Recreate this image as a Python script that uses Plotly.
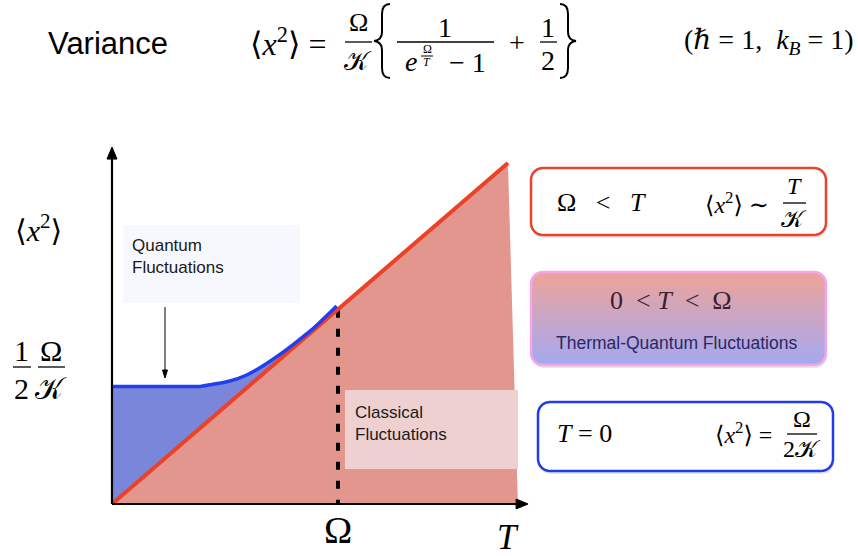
import numpy as np
import plotly.graph_objects as go

W, H = 858, 556

# Temperature T in units of Omega, variance <x^2> in units of Omega/K
T_classical = [0.0, 1.752]
x2_classical = [0.0, 1.755]
T_classical_region = [0.0, 1.752, 1.796]
x2_classical_region = [0.0, 1.755, 0.0]
T_quantum = [0.0, 0.301, 0.389, 0.447, 0.522, 0.596, 0.669, 0.743, 0.817, 0.891, 0.994]
x2_quantum = [0.605, 0.605, 0.605, 0.616, 0.633, 0.664, 0.712, 0.770, 0.835, 0.904, 1.019]
T_omega = [1.0, 1.0]
x2_omega = [1.0, 0.0]
T_axis_end = 1.841
x2_axis_end = 1.837

# pixel <-> axis / paper helpers for the surrounding decoration
X0, Y0, SX, SY = 112, 504, 226, 194.3
def X(px): return (px - X0) / SX
def Y(py): return (Y0 - py) / SY
def XP(t): return X0 + t * SX
def YP(v): return Y0 - v * SY
def PX(px): return px / W
def PY(py): return 1 - py / H

SERIF = "Liberation Serif, DejaVu Serif, serif"
SANS = "Liberation Sans, Arial, sans-serif"
KCAL = "<span style='font-family:DejaVu Sans'>𝒦</span>"
SP = "&nbsp;"

fig = go.Figure()

# classical region under T/K
fig.add_trace(go.Scatter(x=T_classical_region, y=x2_classical_region, mode="lines",
                         fill="toself", fillcolor="#e3968d", line=dict(width=0),
                         hoverinfo="skip", showlegend=False))
# quantum excess between full variance and classical line
fig.add_trace(go.Scatter(x=[T_quantum[0], T_quantum[-1]], y=[T_quantum[0], T_quantum[-1]],
                         mode="lines", line=dict(width=0), hoverinfo="skip", showlegend=False))
fig.add_trace(go.Scatter(x=T_quantum, y=x2_quantum, mode="lines", fill="tonexty",
                         fillcolor="#7a86d9", line=dict(width=0, shape="spline", smoothing=0.8),
                         hoverinfo="skip", showlegend=False))
# dashed marker at T = Omega
fig.add_trace(go.Scatter(x=T_omega, y=x2_omega, mode="lines",
                         line=dict(color="black", width=4, dash="8px,11px"),
                         hoverinfo="skip", showlegend=False))
fig.add_trace(go.Scatter(x=T_classical, y=x2_classical, mode="lines",
                         line=dict(color="#eb4127", width=4),
                         hoverinfo="skip", showlegend=False))
fig.add_trace(go.Scatter(x=T_quantum, y=x2_quantum, mode="lines",
                         line=dict(color="#1f3ff0", width=3.5, shape="spline", smoothing=0.8),
                         hoverinfo="skip", showlegend=False))


def rounded_pts(x0, y0, x1, y1, r, n=10):
    pts = []
    corners = [(x1 - r, y0 + r, -90, 0), (x1 - r, y1 - r, 0, 90),
               (x0 + r, y1 - r, 90, 180), (x0 + r, y0 + r, 180, 270)]
    for cx, cy, a0, a1 in corners:
        for a in np.linspace(np.radians(a0), np.radians(a1), n):
            pts.append((cx + r * np.cos(a), cy + r * np.sin(a)))
    pts.append(pts[0])
    return pts


def poly_path(pts, close=True):
    s = "M " + " L ".join(f"{PX(a):.5f},{PY(b):.5f}" for a, b in pts)
    return s + (" Z" if close else "")


# gradient panel (thermal-quantum regime)
g = rounded_pts(531, 272, 826, 365, 12)
fig.add_trace(go.Scatter(x=[X(a) for a, b in g], y=[Y(b) for a, b in g], mode="lines",
                         fill="toself", line=dict(width=0),
                         fillgradient=dict(type="vertical",
                                           colorscale=[[0, "#a3a9ef"], [0.5, "#c9a6c6"], [1, "#eda398"]]),
                         hoverinfo="skip", showlegend=False))

shapes = []
# light label boxes
shapes.append(dict(type="rect", xref="paper", yref="paper", x0=PX(123), x1=PX(300),
                   y0=PY(303), y1=PY(225), fillcolor="#f7f8fd", line=dict(width=0)))
shapes.append(dict(type="rect", xref="paper", yref="paper", x0=PX(345), x1=PX(518),
                   y0=PY(469), y1=PY(390), fillcolor="#efd0d0", line=dict(width=0)))

# regime boxes with soft shadow
for (x0, y0, x1, y1, col, fill) in [(531, 168, 826, 235, "#e8432c", "white"),
                                    (531, 272, 826, 365, "#f3a6ee", None),
                                    (538, 402, 833, 471, "#1f3de8", "white")]:
    shapes.append(dict(type="path", xref="paper", yref="paper",
                       path=poly_path(rounded_pts(x0 + 1, y0 + 3, x1 + 1, y1 + 3, 12)),
                       fillcolor="rgba(0,0,0,0.10)", line=dict(width=0), layer="below"))
    shapes.append(dict(type="path", xref="paper", yref="paper",
                       path=poly_path(rounded_pts(x0, y0, x1, y1, 12)),
                       fillcolor=fill if fill else "rgba(0,0,0,0)",
                       line=dict(color=col, width=2.5)))


def seg(x0, y0, x1, y1, w, col="black"):
    shapes.append(dict(type="line", xref="paper", yref="paper", x0=PX(x0), x1=PX(x1),
                       y0=PY(y0), y1=PY(y1), line=dict(color=col, width=w)))


def head(pts):
    shapes.append(dict(type="path", xref="paper", yref="paper", path=poly_path(pts),
                       fillcolor="black", line=dict(color="black", width=1)))


def bar(x0, x1, y, w=1.3):
    seg(x0, y, x1, y, w)


def brace(tip, stem, y0, y1, left=True):
    ym = (y0 + y1) / 2
    d = 8 if left else -8
    end = stem + d
    s = (f"M {PX(end)},{PY(y0)} Q {PX(stem)},{PY(y0)} {PX(stem)},{PY(y0 + 10)} "
         f"L {PX(stem)},{PY(ym - 9)} Q {PX(stem)},{PY(ym - 1)} {PX(tip)},{PY(ym)} "
         f"Q {PX(stem)},{PY(ym + 1)} {PX(stem)},{PY(ym + 9)} "
         f"L {PX(stem)},{PY(y1 - 10)} Q {PX(stem)},{PY(y1)} {PX(end)},{PY(y1)}")
    shapes.append(dict(type="path", xref="paper", yref="paper", path=s,
                       line=dict(color="black", width=2)))


# coordinate axes with arrowheads
ax_x, ax_y = XP(0), YP(0)
tip_x, tip_y = XP(T_axis_end), YP(x2_axis_end)
seg(ax_x, ax_y, tip_x - 8, ax_y, 2.2)
head([(tip_x, ax_y), (tip_x - 12, ax_y - 5), (tip_x - 12, ax_y + 5)])
seg(ax_x, ax_y, ax_x, tip_y + 8, 2.2)
head([(ax_x, tip_y), (ax_x - 5, tip_y + 12), (ax_x + 5, tip_y + 12)])
# pointer to the quantum plateau
seg(165, 307, 165, 372, 1)
head([(165, 378), (162.5, 370), (167.5, 370)])

# formula fraction bars and braces
bar(345, 372, 42)
bar(397, 494, 42)
bar(540, 557, 42)
bar(421, 433, 56, 1)
brace(374, 382, 4, 78, left=True)
brace(576, 568, 4, 78, left=False)
bar(13, 31, 367)
bar(38, 65, 367)
bar(783, 806, 203)
bar(787, 817, 434)

anns = []


def txt(s, px, py, size, family=SERIF, color="black", xanchor="center", align="center"):
    anns.append(dict(text=s, x=PX(px), y=PY(py), xref="paper", yref="paper",
                     showarrow=False, xanchor=xanchor, yanchor="middle", align=align,
                     font=dict(size=size, family=family, color=color)))


# header
txt("Variance", 46, 44, 31, SANS, xanchor="left")
txt("⟨<i>x</i><sup>2</sup>⟩ =", 248, 42, 32, xanchor="left")
txt("Ω", 358, 23, 26)
txt(KCAL, 358, 61, 26)
txt("1", 445, 27, 28)
txt("<i>e</i>", 411, 62, 28)
txt("Ω", 427, 49, 12)
txt("<i>T</i>", 427, 62, 12)
txt("− 1", 468, 63, 28)
txt("+", 517, 43, 28)
txt("1", 548, 27, 28)
txt("2", 548, 61, 28)
txt("(ℏ = 1,  <i>k</i><sub><i>B</i></sub> = 1)", 856, 42, 28, xanchor="right")

# axis labels
txt("⟨<i>x</i><sup>2</sup>⟩", 38, 228, 30)
txt("1", 21, 350, 30)
txt("2", 21, 388, 30)
txt("Ω", 51, 350, 30)
txt(KCAL, 51, 388, 30)
txt("Ω", 338, 530, 38)
txt("<i>T</i>", 508, 537, 35)

# region notes
txt("Quantum<br>Fluctuations", 130, 256, 17, SANS, "#1a1a1a", xanchor="left", align="left")
txt("Classical<br>Fluctuations", 353, 423, 17, SANS, "#1a1a1a", xanchor="left", align="left")

# regime boxes text
txt(f"Ω{SP*3}<{SP*3}<i>T</i>", 555, 203, 26, xanchor="left")
txt("⟨<i>x</i><sup>2</sup>⟩ ∼", 703, 203, 24, xanchor="left")
txt("<i>T</i>", 794, 186, 24)
txt(KCAL, 794, 219, 24)
txt(f"0{SP*2}<{SP}<i>T</i>{SP*2}<{SP*2}Ω", 671, 300, 26, color="#3a2030")
txt("Thermal-Quantum Fluctuations", 676, 343, 17.5, SANS, "#2b2766")
txt("<i>T</i> = 0", 555, 433, 26, xanchor="left")
txt("⟨<i>x</i><sup>2</sup>⟩ =", 713, 433, 24, xanchor="left")
txt("Ω", 802, 419, 24)
txt("2" + KCAL, 802, 449, 24)

fig.update_layout(
    width=W, height=H, margin=dict(l=0, r=0, t=0, b=0),
    paper_bgcolor="white", plot_bgcolor="white",
    xaxis=dict(range=[X(0), X(W)], visible=False, fixedrange=True),
    yaxis=dict(range=[Y(H), Y(0)], visible=False, fixedrange=True),
    shapes=shapes, annotations=anns, showlegend=False,
)

fig.write_html("out.html")
